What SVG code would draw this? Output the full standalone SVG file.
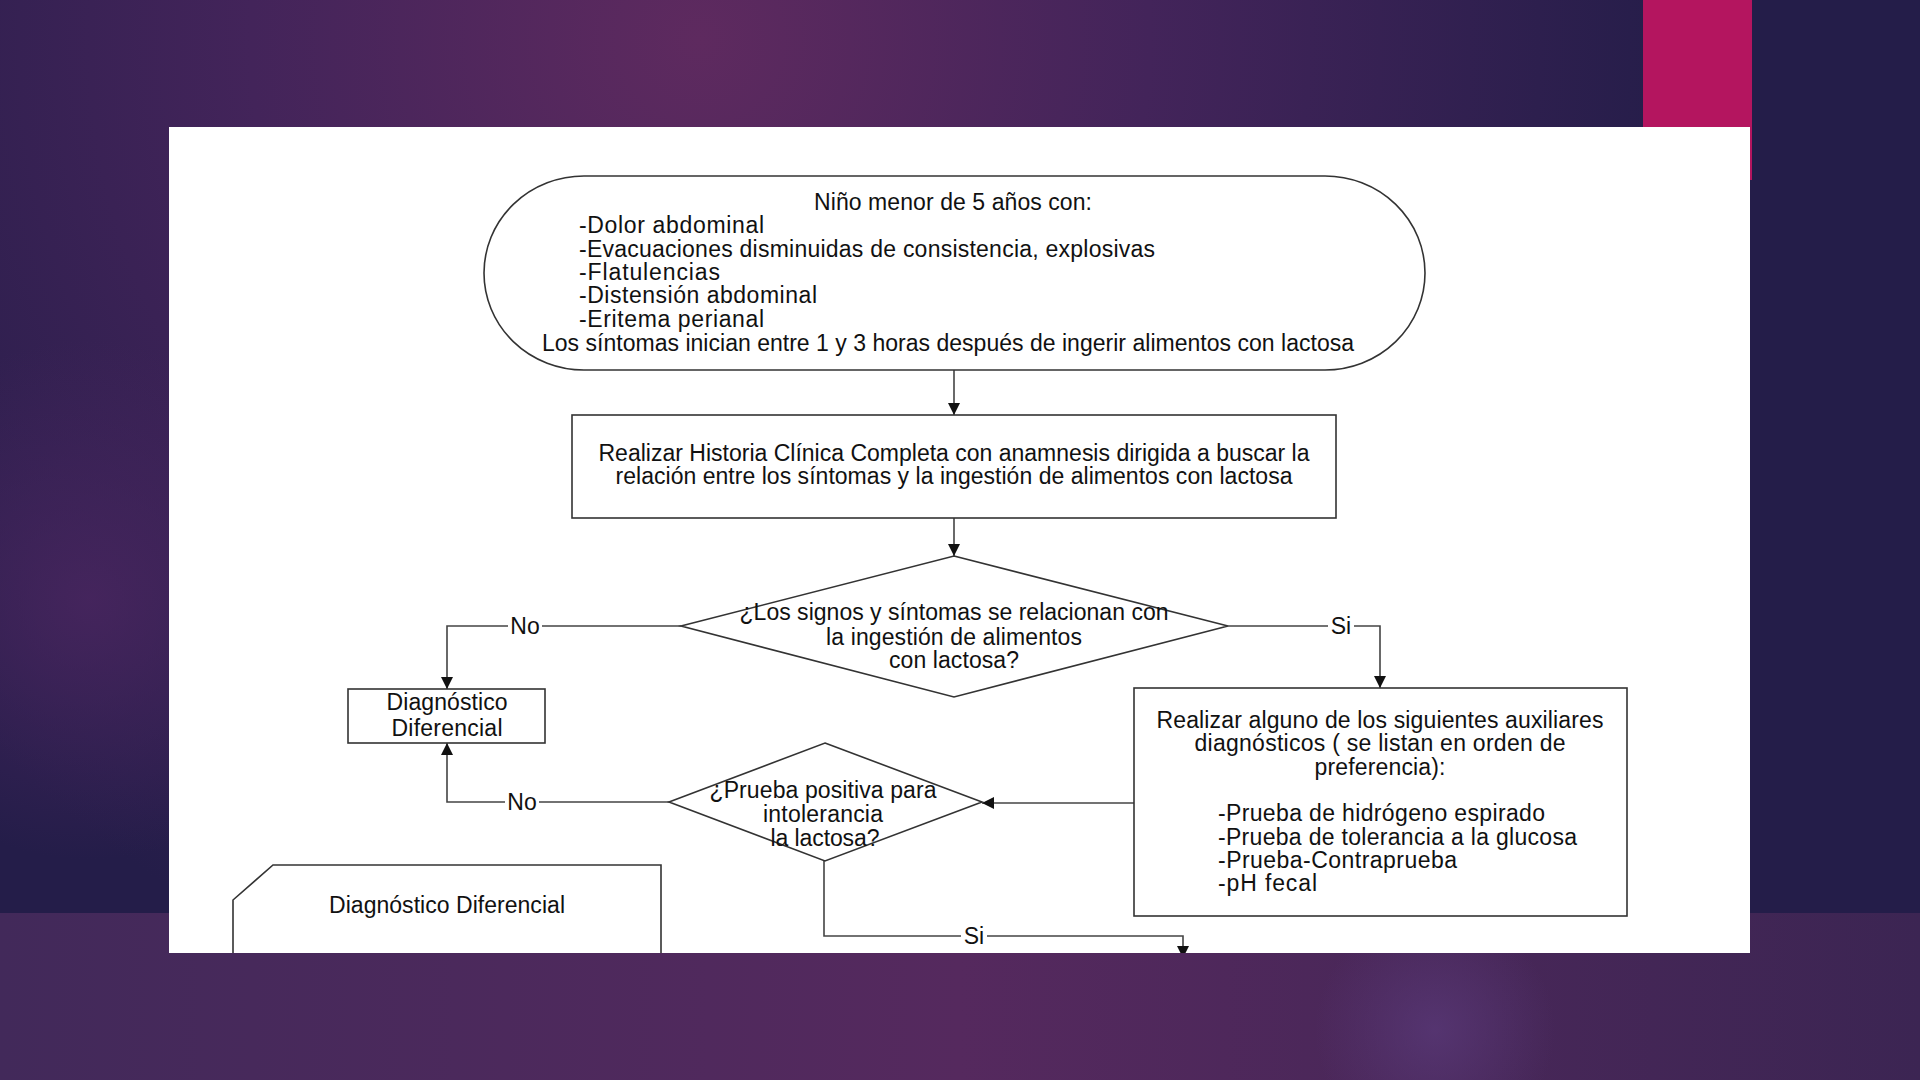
<svg xmlns="http://www.w3.org/2000/svg" width="1920" height="1080" viewBox="0 0 1920 1080">
  <defs>
    <radialGradient id="bgTop" cx="700" cy="40" r="1000" gradientUnits="userSpaceOnUse">
      <stop offset="0" stop-color="#5e2a5f"/>
      <stop offset="0.45" stop-color="#43245a"/>
      <stop offset="1" stop-color="#241d49"/>
    </radialGradient>
    <radialGradient id="glowLeft" cx="90" cy="600" r="260" gradientUnits="userSpaceOnUse">
      <stop offset="0" stop-color="#4a2660" stop-opacity="0.8"/>
      <stop offset="1" stop-color="#4a2660" stop-opacity="0"/>
    </radialGradient>
    <linearGradient id="bgBottom" x1="0" y1="0" x2="1" y2="0">
      <stop offset="0" stop-color="#42295a"/>
      <stop offset="0.5" stop-color="#55295e"/>
      <stop offset="1" stop-color="#3c2553"/>
    </linearGradient>
    <radialGradient id="glowBottom" cx="1435" cy="1030" r="120" gradientUnits="userSpaceOnUse">
      <stop offset="0" stop-color="#5a3a7a" stop-opacity="0.7"/>
      <stop offset="1" stop-color="#5a3a7a" stop-opacity="0"/>
    </radialGradient>
    <clipPath id="panelClip">
      <rect x="169" y="127" width="1581" height="826"/>
    </clipPath>
    <marker id="arrow" viewBox="0 0 10 10" refX="10" refY="5" markerWidth="12" markerHeight="12" markerUnits="userSpaceOnUse" orient="auto">
      <path d="M0,0 L10,5 L0,10 Z" fill="#111"/>
    </marker>
    <style>
      .shape { fill: #ffffff; stroke: #333333; stroke-width: 1.6; }
      .conn { fill: none; stroke: #444444; stroke-width: 1.6; }
      text { font-family: "Liberation Sans", Arial, sans-serif; font-size: 23px; fill: #111111; }
      .c { text-anchor: middle; }
      .lbl { text-anchor: middle; }
      .lblbg { fill: #ffffff; }
    </style>
  </defs>

  <!-- background -->
  <rect x="0" y="0" width="1920" height="1080" fill="url(#bgTop)"/>
  <rect x="0" y="0" width="1920" height="1080" fill="url(#glowLeft)"/>
  <rect x="0" y="913" width="1920" height="167" fill="url(#bgBottom)"/>
  <rect x="0" y="913" width="1920" height="167" fill="url(#glowBottom)"/>
  <rect x="1643" y="0" width="109" height="180" fill="#b4155f"/>

  <!-- white panel -->
  <rect x="169" y="127" width="1581" height="826" fill="#ffffff"/>

  <g clip-path="url(#panelClip)">
    <g id="connectors">
      <line class="conn" x1="954" y1="370" x2="954" y2="415" marker-end="url(#arrow)"/>
      <line class="conn" x1="954" y1="518" x2="954" y2="556" marker-end="url(#arrow)"/>
      <polyline class="conn" points="681,626 447,626 447,689" marker-end="url(#arrow)"/>
      <polyline class="conn" points="1228,626 1380,626 1380,688" marker-end="url(#arrow)"/>
      <line class="conn" x1="1134" y1="803" x2="982" y2="803" marker-end="url(#arrow)"/>
      <polyline class="conn" points="669,802 447,802 447,743" marker-end="url(#arrow)"/>
      <polyline class="conn" points="824,861 824,936 1183,936 1183,958" marker-end="url(#arrow)"/>
      <rect class="lblbg" x="508" y="612" width="34" height="26"/>
      <text class="lbl" x="525" y="634">No</text>
      <rect class="lblbg" x="1328" y="612" width="26" height="26"/>
      <text class="lbl" x="1341" y="634">Si</text>
      <rect class="lblbg" x="505" y="788" width="34" height="26"/>
      <text class="lbl" x="522" y="810">No</text>
      <rect class="lblbg" x="961" y="922" width="26" height="26"/>
      <text class="lbl" x="974" y="944">Si</text>
    </g>

    <g id="start">
      <rect class="shape" x="484" y="176" width="941" height="194" rx="100" ry="97"/>
      <text class="c" x="953" y="210" textLength="278">Niño menor de 5 años con:</text>
      <text x="579" y="233" textLength="185">-Dolor abdominal</text>
      <text x="579" y="257" textLength="576">-Evacuaciones disminuidas de consistencia, explosivas</text>
      <text x="579" y="280" textLength="141">-Flatulencias</text>
      <text x="579" y="303" textLength="238">-Distensión abdominal</text>
      <text x="579" y="327" textLength="185">-Eritema perianal</text>
      <text class="c" x="948" y="351" textLength="812">Los síntomas inician entre 1 y 3 horas después de ingerir alimentos con lactosa</text>
    </g>

    <g id="historia">
      <rect class="shape" x="572" y="415" width="764" height="103"/>
      <text class="c" x="954" y="461" textLength="711">Realizar Historia Clínica Completa con anamnesis dirigida a buscar la</text>
      <text class="c" x="954" y="484" textLength="677">relación entre los síntomas y la ingestión de alimentos con lactosa</text>
    </g>

    <g id="decision1">
      <polygon class="shape" points="954,556 1228,626 954,697 681,626"/>
      <text class="c" x="954" y="620" textLength="429">¿Los signos y síntomas se relacionan con</text>
      <text class="c" x="954" y="645" textLength="256">la ingestión de alimentos</text>
      <text class="c" x="954" y="668" textLength="130">con lactosa?</text>
    </g>

    <g id="diag1">
      <rect class="shape" x="348" y="689" width="197" height="54"/>
      <text class="c" x="447" y="710" textLength="121">Diagnóstico</text>
      <text class="c" x="447" y="736" textLength="111">Diferencial</text>
    </g>

    <g id="auxiliares">
      <rect class="shape" x="1134" y="688" width="493" height="228"/>
      <text class="c" x="1380" y="728" textLength="447">Realizar alguno de los siguientes auxiliares</text>
      <text class="c" x="1380" y="751" textLength="371">diagnósticos ( se listan en orden de</text>
      <text class="c" x="1380" y="775" textLength="131">preferencia):</text>
      <text x="1218" y="821" textLength="327">-Prueba de hidrógeno espirado</text>
      <text x="1218" y="845" textLength="359">-Prueba de tolerancia a la glucosa</text>
      <text x="1218" y="868" textLength="239">-Prueba-Contraprueba</text>
      <text x="1218" y="891" textLength="99">-pH fecal</text>
    </g>

    <g id="decision2">
      <polygon class="shape" points="825,743 982,802 825,861 669,802"/>
      <text class="c" x="823" y="798" textLength="227">¿Prueba positiva para</text>
      <text class="c" x="823" y="822" textLength="120">intolerancia</text>
      <text class="c" x="825" y="846" textLength="109">la lactosa?</text>
    </g>

    <g id="diag2">
      <path class="shape" d="M233,900 L273,865 L661,865 L661,980 L233,980 Z"/>
      <text class="c" x="447" y="913" textLength="236">Diagnóstico Diferencial</text>
    </g>
  </g>
</svg>
